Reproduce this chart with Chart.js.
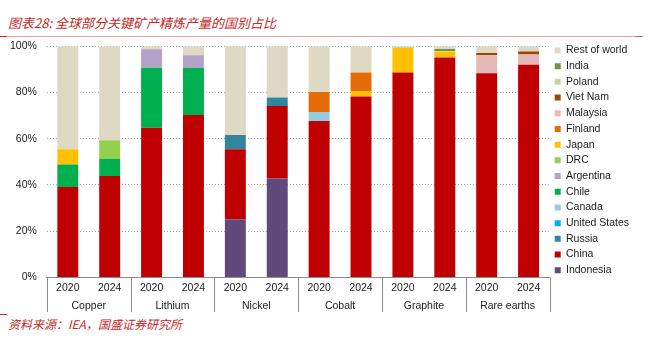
<!DOCTYPE html>
<html>
<head>
<meta charset="utf-8">
<script src="https://cdn.jsdelivr.net/npm/chart.js@4"></script>
<style>
  html, body { margin: 0; padding: 0; background: #fff; }
  body { width: 654px; height: 343px; position: relative; overflow: hidden; }
  .title { position: absolute; left: 8px; top: 13px; font: italic 13px "Noto Sans CJK SC", sans-serif; color: #c62828; white-space: nowrap; }
  .source { position: absolute; left: 8px; top: 315px; font: italic 12px "Noto Sans CJK SC", sans-serif; color: #c62828; white-space: nowrap; }
  .rule { position: absolute; height: 1px; }
  #wrap { position: absolute; left: 0; top: 40px; width: 654px; height: 272px; }
</style>
</head>
<body>
<div class="title">图表28: 全球部分关键矿产精炼产量的国别占比</div>
<div class="rule" style="left:0;top:36px;width:643px;background:#e8a5a5"></div>
<div class="rule" style="left:0;top:36px;width:7px;background:#c62828"></div>
<div class="rule" style="left:635px;top:36px;width:8px;background:#d06060"></div>
<div class="rule" style="left:0;top:314px;width:7px;background:#c62828"></div>
<div class="source">资料来源：IEA，国盛证券研究所</div>
<div id="wrap"><canvas id="myChart"></canvas></div>
<script>
// 各礦產精煉產量國別占比 (%)
const minerals = ["Copper", "Lithium", "Nickel", "Cobalt", "Graphite", "Rare earths"];
const years = ["2020", "2024"];
const yTicks = [0, 20, 40, 60, 80, 100];

// bottom -> top of each stack
const countries = ["Indonesia", "China", "Russia", "United States", "Canada", "Chile", "Argentina",
  "DRC", "Japan", "Finland", "Malaysia", "Viet Nam", "Poland", "India", "Rest of world"];
const colors = ["#604a7b", "#c00000", "#31859c", "#00b0f0", "#93cddd", "#00b050", "#b3a2c7",
  "#92d050", "#ffc000", "#e36c09", "#e6b9b8", "#984807", "#c3d69b", "#76923c", "#ddd9c3"];

// order: Cu20, Cu24, Li20, Li24, Ni20, Ni24, Co20, Co24, Gr20, Gr24, RE20, RE24
const indonesia = [0, 0, 0, 0, 25.1, 42.8, 0, 0, 0, 0, 0, 0];
const china     = [39.1, 43.9, 64.8, 70.3, 30.3, 31.4, 67.7, 78.3, 88.7, 95.2, 88.3, 92.0];
const russia    = [0, 0, 0, 0, 6.2, 3.6, 0, 0, 0, 0, 0, 0];
const unitedStates = [0, 0, 0, 0, 0, 0, 0, 0, 0, 0, 0, 0];
const canada    = [0, 0, 0, 0, 0, 0, 3.9, 0, 0, 0, 0, 0];
const chile     = [9.8, 7.3, 25.9, 20.3, 0, 0, 0, 0, 0, 0, 0, 0];
const argentina = [0, 0, 8.0, 5.5, 0, 0, 0, 0, 0, 0, 0, 0];
const drc       = [0, 8.1, 0, 0, 0, 0, 0, 0, 0, 0, 0, 0];
const japan     = [6.5, 0, 0, 0, 0, 0, 0, 2.4, 10.6, 2.4, 0, 0];
const finland   = [0, 0, 0, 0, 0, 0, 8.6, 8.0, 0, 0, 0, 0];
const malaysia  = [0, 0, 0, 0, 0, 0, 0, 0, 0, 0, 7.8, 4.5];
const vietNam   = [0, 0, 0, 0, 0, 0, 0, 0, 0, 0, 1.0, 1.2];
const poland    = [0, 0, 0, 0, 0, 0, 0, 0, 0.4, 0.4, 0, 0];
const india     = [0, 0, 0, 0, 0, 0, 0, 0, 0, 0.8, 0, 0];
const restOfWorld = [44.6, 40.7, 1.3, 3.9, 38.4, 22.2, 19.8, 11.3, 0.3, 1.2, 2.9, 2.3];

const series = [indonesia, china, russia, unitedStates, canada, chile, argentina,
  drc, japan, finland, malaysia, vietNam, poland, india, restOfWorld];

const xLabels = minerals.flatMap(() => years);

Chart.defaults.font.family = '"Liberation Sans", Arial, sans-serif';
Chart.defaults.font.size = 10.5;
Chart.defaults.color = "#1a1a1a";

// 分組分隔線
const groupLines = {
  id: "groupLines",
  afterDraw(chart) {
    const x2 = chart.scales.x2;
    const {ctx, chartArea} = chart;
    ctx.save();
    ctx.strokeStyle = "#8c8c8c";
    ctx.lineWidth = 1;
    for (let k = 0; k <= minerals.length; k++) {
      const px = Math.round(x2.getPixelForValue(k - 0.5)) + 0.5;
      ctx.beginPath();
      ctx.moveTo(px, chartArea.bottom);
      ctx.lineTo(px, chartArea.bottom + 36);
      ctx.stroke();
    }
    ctx.restore();
  }
};

new Chart("myChart", {
  type: "bar",
  data: {
    labels: xLabels,
    datasets: countries.map((name, i) => ({
      label: name,
      data: series[i],
      backgroundColor: colors[i],
      borderWidth: 0,
      barPercentage: 0.5,
      categoryPercentage: 1
    }))
  },
  options: {
    responsive: true,
    maintainAspectRatio: false,
    animation: false,
    layout: {padding: {top: 0, left: 10, right: 15, bottom: 0}},
    plugins: {
      legend: {
        position: "right",
        align: "start",
        reverse: true,
        labels: {boxWidth: 6, boxHeight: 6, padding: 5.2, color: "#1a1a1a"}
      },
      tooltip: {enabled: false}
    },
    scales: {
      x: {
        stacked: true,
        grid: {display: false, drawTicks: false},
        border: {display: true, color: "#8c8c8c"},
        ticks: {padding: 4.7, maxRotation: 0, autoSkip: false}
      },
      x2: {
        type: "category",
        labels: minerals,
        offset: true,
        grid: {display: false, drawTicks: false},
        border: {display: false},
        ticks: {padding: 0, maxRotation: 0, autoSkip: false}
      },
      y: {
        stacked: true,
        min: 0,
        max: 100,
        afterBuildTicks: (scale) => { scale.ticks = yTicks.map(v => ({value: v})); },
        grid: {color: "#a6a6a6", borderDash: [1, 2], drawTicks: true, tickLength: 10, tickColor: "rgba(0,0,0,0)"},
        border: {display: false, dash: [1, 2]},
        ticks: {padding: 0, callback: (v) => v + "%"}
      }
    }
  },
  plugins: [groupLines]
});
</script>
</body>
</html>
